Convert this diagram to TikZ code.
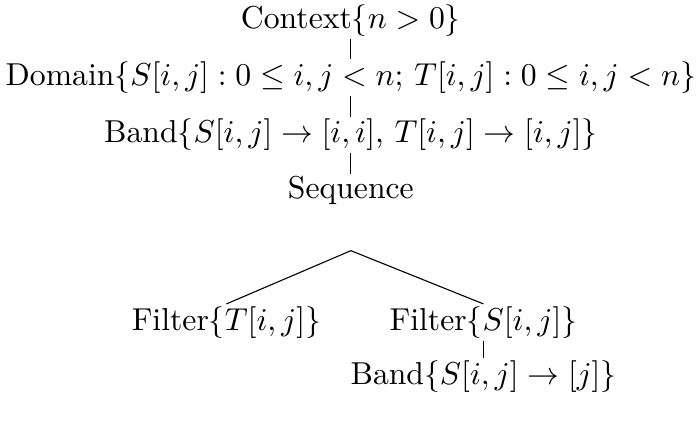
\documentclass[tikz,border=0pt]{standalone}
\usetikzlibrary{positioning}
\begin{document}
\begin{tikzpicture}[node distance=6.5pt,
  lbl/.style={inner sep=0.6pt},
  link/.style={draw=black,line width=0.35pt}]
\useasboundingbox (-110.7pt,6.4pt) rectangle (109.2pt,-126.7pt);
\node[lbl] (ctx) at (0,0) {Context$\{n > 0\}$};
\node[lbl,below=of ctx] (dom) {Domain$\{S[i,j] : 0 \le i,j < n$; $T[i,j] : 0 \le i,j < n\}$};
\node[lbl,below=of dom] (band) {Band$\{S[i,j] \to [i,i]$, $T[i,j] \to [i,j]\}$};
\node[lbl,below=of band] (seq) {Sequence};
\coordinate[below=13.6pt of seq] (fork);
\node[lbl,below=30.4pt of seq,xshift=-1.38cm] (filt) {Filter$\{T[i,j]\}$};
\node[lbl,below=30.4pt of seq,xshift=1.47cm] (fils) {Filter$\{S[i,j]\}$};
\node[lbl,below=5.5pt of fils] (bandj) {Band$\{S[i,j] \to [j]\}$};
\draw[link] (ctx) -- (dom);
\draw[link] (dom) -- (band);
\draw[link] (band) -- (seq);
\draw[link] (fork) -- (filt.north);
\draw[link] (fork) -- (fils.north);
\draw[link] (fils) -- (bandj);
\end{tikzpicture}
\end{document}
